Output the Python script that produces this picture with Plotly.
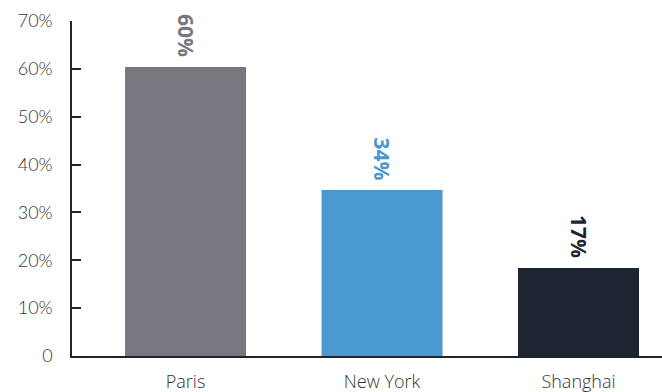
import plotly.graph_objects as go

cities = ["Paris", "New York", "Shanghai"]
values = [60.4, 34.7, 18.4]
value_labels = ["60%", "34%", "17%"]
colors = ["#77777f", "#4a98d0", "#1e2530"]
y_tickvals = [0, 10, 20, 30, 40, 50, 60, 70]
y_ticktext = ["0", "10%", "20%", "30%", "40%", "50%", "60%", "70%"]

fig = go.Figure(go.Bar(
    x=cities, y=values,
    marker=dict(color=colors, line=dict(width=0)),
    cliponaxis=False, width=0.616,
))

for c, v, t, col in zip(cities, values, value_labels, colors):
    fig.add_annotation(
        x=c, y=v, text=f"<b>{t}</b>", showarrow=False,
        textangle=90, xanchor="center", yanchor="bottom", yshift=8,
        font=dict(family="Open Sans", size=21, color=col),
    )

fig.update_layout(
    width=662, height=392,
    margin=dict(l=72, r=0, t=21, b=36),
    paper_bgcolor="white", plot_bgcolor="white",
    showlegend=False,
    xaxis=dict(
        range=[-0.578, 2.425], showgrid=False, zeroline=False,
        showline=True, linecolor="#1e2530", linewidth=1.5,
        ticks="", tickfont=dict(family="Open Sans", size=18, color="#333333", weight=300),
        ticklabelstandoff=9,
    ),
    yaxis=dict(
        range=[0, 70], tickvals=y_tickvals, ticktext=y_ticktext,
        showgrid=False, zeroline=False,
        showline=True, linecolor="#1e2530", linewidth=1.5,
        ticks="inside", ticklen=9, tickwidth=1.5, tickcolor="#1e2530",
        tickfont=dict(family="Lato", size=18, color="#333333", weight=300),
        ticklabelstandoff=14,
    ),
)

fig.write_html("out.html")
